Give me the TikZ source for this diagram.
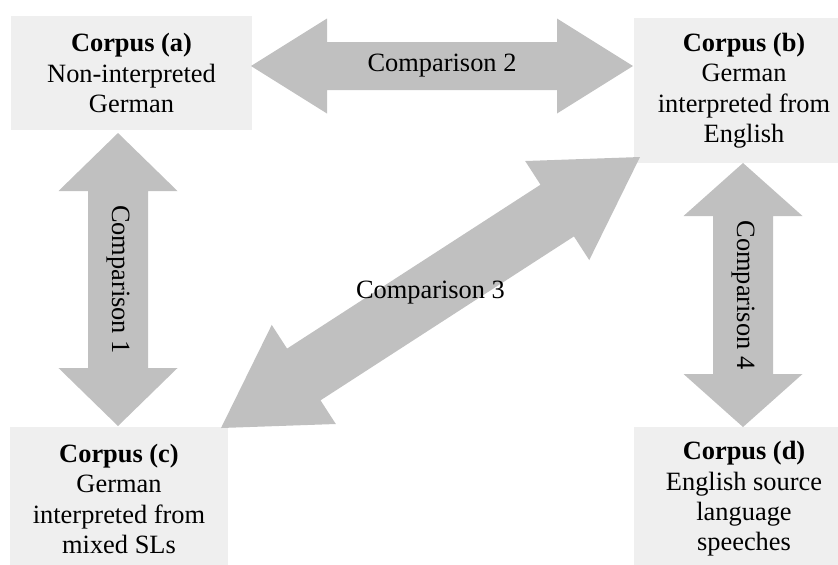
\documentclass[tikz,border=0pt]{standalone}
\usepackage{fontspec}
\setmainfont{Liberation Serif}
\usetikzlibrary{calc}

\definecolor{boxgray}{HTML}{EFEFEF}
\definecolor{arrowgray}{HTML}{C0C0C0}

% Thick double-headed block arrow between two named points.
% #1 start, #2 end, #3 head length, #4 head half-width, #5 shaft half-width
\newcommand\blockarrow[5]{%
  \coordinate (hA) at ($(#1)!#3!(#2)$);
  \coordinate (hB) at ($(#2)!#3!(#1)$);
  \fill[arrowgray] (#1)
    -- ($(hA)!#4!90:(#2)$) -- ($(hA)!#5!90:(#2)$)
    -- ($(hB)!#5!-90:(#1)$) -- ($(hB)!#4!-90:(#1)$)
    -- (#2)
    -- ($(hB)!#4!90:(#1)$) -- ($(hB)!#5!90:(#1)$)
    -- ($(hA)!#5!-90:(#2)$) -- ($(hA)!#4!-90:(#2)$)
    -- cycle;
}

\begin{document}
\begin{tikzpicture}[x=0.5pt,y=-0.5pt,
  corpus/.style={fill=boxgray, draw=none, inner sep=0pt, align=center,
    font=\fontsize{13.2}{15.2}\selectfont},
  cmp/.style={inner sep=1pt, font=\fontsize{13.2}{15.2}\selectfont}]
\useasboundingbox (0,0) rectangle (838,564);
\clip (0,0) rectangle (838,564);

% corpus boxes
\node[corpus, minimum width=120.5pt, minimum height=57pt] (a) at (131.5,73)
  {\textbf{Corpus (a)}\\Non-interpreted\\German};
\node[corpus, minimum width=110pt, minimum height=72.5pt] (b) at (744,90.5)
  {\textbf{Corpus (b)}\\German\\interpreted from\\English};
\node[corpus, minimum width=109pt, minimum height=72pt] (c) at (119,499)
  {\textbf{Corpus (c)}\\German\\interpreted from\\mixed SLs};
\node[corpus, minimum width=110pt, minimum height=72pt] (d) at (744,499)
  {\textbf{Corpus (d)}\\English source\\language\\speeches};

% arrow tips at the box edges
\coordinate (a1) at (118,133);
\coordinate (c1) at (118,426);
\coordinate (a2) at (251,66);
\coordinate (b2) at (633,66);
\coordinate (b3) at (640,157);
\coordinate (c3) at (221,428);
\coordinate (b4) at (743,163);
\coordinate (d4) at (743,427);

% comparison arrows
\blockarrow{a1}{c1}{29pt}{29.75pt}{15pt}
\blockarrow{a2}{b2}{38pt}{23.75pt}{12pt}
\blockarrow{b3}{c3}{49.3pt}{29.5pt}{15.4pt}
\blockarrow{b4}{d4}{26.5pt}{29.75pt}{15pt}

% comparison labels
\node[cmp, rotate=-90] (l1) at ($(a1)!0.5!(c1)$) {Comparison 1};
\node[cmp] (l2) at ($(a2)!0.5!(b2)$) {Comparison 2};
\node[cmp] (l3) at ($(b3)!0.5!(c3)$) {Comparison 3};
\node[cmp, rotate=-90] (l4) at ($(b4)!0.5!(d4)$) {Comparison 4};
\end{tikzpicture}
\end{document}
